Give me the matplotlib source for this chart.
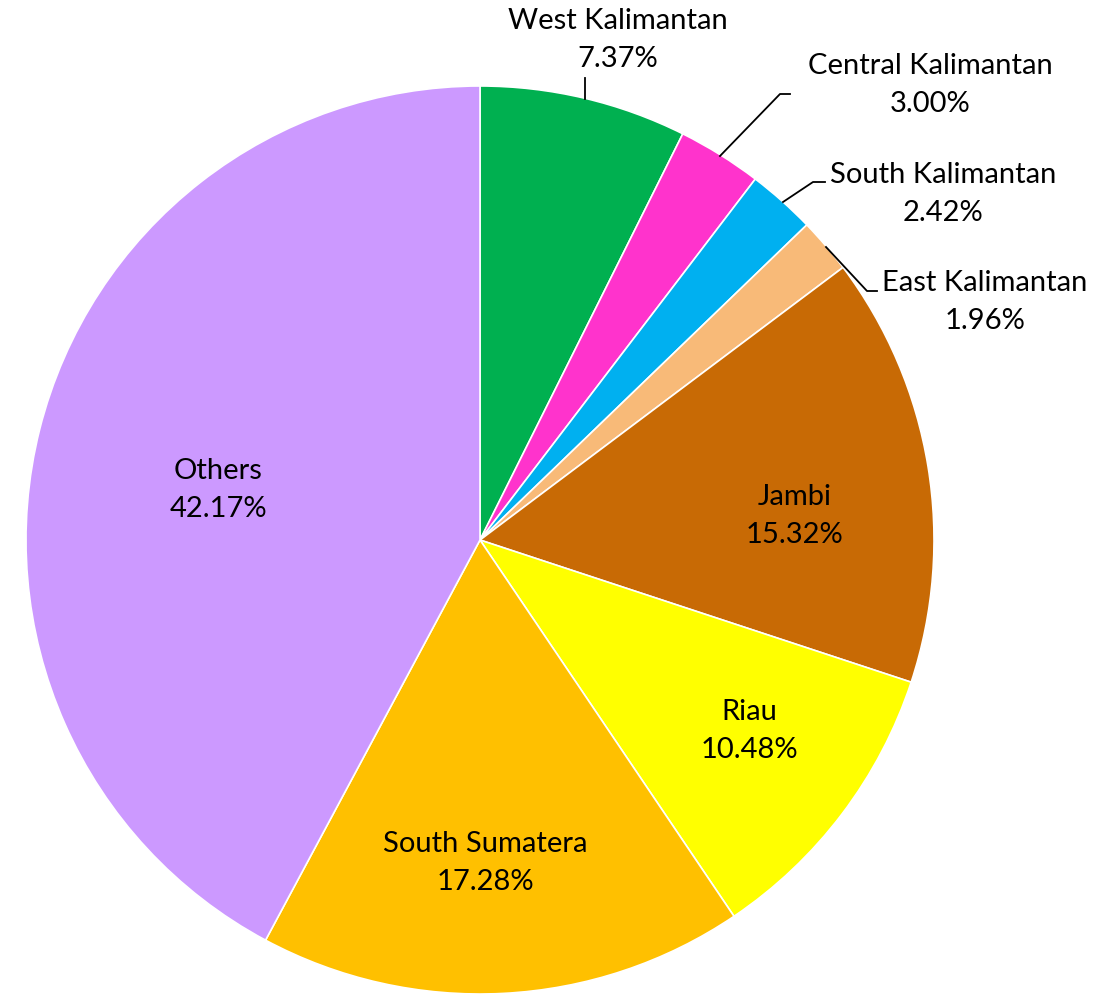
import matplotlib
matplotlib.use("Agg")
from matplotlib import pyplot as plt

# shares of each province (percent)
regions = ["West Kalimantan", "Central Kalimantan", "South Kalimantan", "East Kalimantan",
           "Jambi", "Riau", "South Sumatera", "Others"]
shares = [7.37, 3.00, 2.42, 1.96, 15.32, 10.48, 17.28, 42.17]
colors = ["#00B050", "#FF33CC", "#00B0F0", "#F8BA78", "#C86A05", "#FFFF00", "#FFC000", "#CC99FF"]

W, H = 1115, 995
CX, CY, R = 480, 541, 454


def px(x, y):
    # pixel position in the picture -> data coordinates (pie radius = 1)
    return (x - CX) / R, (CY - y) / R


plt.rcParams["font.family"] = ["Lato", "DejaVu Sans"]
fig = plt.figure(figsize=(W / 100, H / 100), dpi=100)
ax = fig.add_axes([0, 0, 1, 1])
ax.pie(shares, colors=colors, startangle=90, counterclock=False, radius=1,
       wedgeprops=dict(edgecolor="white", linewidth=1.2))
ax.set_xlim(px(0, 0)[0], px(W, 0)[0])
ax.set_ylim(px(0, H)[1], px(0, 0)[1])
ax.set_aspect("equal")
ax.axis("off")

# label centres and leader lines (pixel positions)
label_pos = [(618, 40), (930, 85), (943, 194), (985, 302),
             (795, 516), (749, 731), (485, 863), (218, 490)]
leaders = {
    0: [(585, 100), (585, 79)],
    1: [(720, 157), (780, 95), (790, 95)],
    2: [(783, 203), (813, 183), (825, 183)],
    3: [(826, 248), (867, 292), (877, 292)],
}

for i, (name, val) in enumerate(zip(regions, shares)):
    x, y = px(*label_pos[i])
    ax.text(x, y, f"{name}\n{val:.2f}%", ha="center", va="center",
            fontsize=21, linespacing=1.55, color="black")
    if i in leaders:
        pts = [px(a, b) for a, b in leaders[i]]
        ax.plot([p[0] for p in pts], [p[1] for p in pts], color="black", lw=1.3)

plt.savefig("out.png", dpi=100)
